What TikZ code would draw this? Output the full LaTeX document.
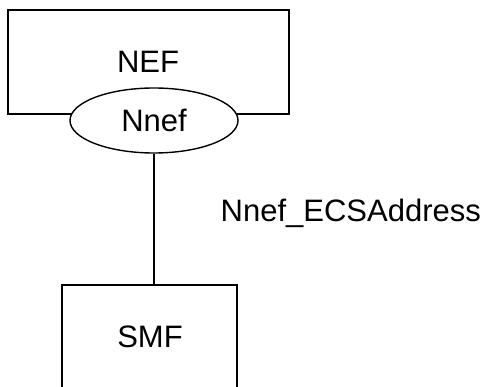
\documentclass[tikz,border=0pt]{standalone}
\usepackage{fontspec}
\setmainfont{Liberation Sans}
\usetikzlibrary{shapes.geometric}
\begin{document}
\begin{tikzpicture}[x=1pt,y=-1pt,
  line width=1.4pt,
  boxnode/.style={draw,rectangle,inner sep=0pt},
  ifnode/.style={draw,ellipse,fill=white,inner sep=0pt,minimum width=168pt,minimum height=65pt},
  lbl/.style={font=\fontsize{31}{36}\selectfont,inner sep=0pt,anchor=center}]
\useasboundingbox (0,0) rectangle (489,387);
\clip (0,0) rectangle (489,387);
\node[boxnode,minimum width=281pt,minimum height=104pt] (nef) at (148.5,62) {};
\node[lbl] (neft) at (148,62) {NEF};
\node[ifnode] (nnef) at (154,120.5) {};
\node[lbl] (nneft) at (154,120) {Nnef};
\node[boxnode,minimum width=175pt,minimum height=115pt] (smf) at (149.5,342.5) {};
\node[lbl] (smft) at (150,337) {SMF};
\coordinate (smftop) at (154,285);
\draw (nnef.south) -- (smftop);
\node[lbl,anchor=west] (ref) at (220,213) {Nnef\_ECSAddress};
\end{tikzpicture}
\end{document}
